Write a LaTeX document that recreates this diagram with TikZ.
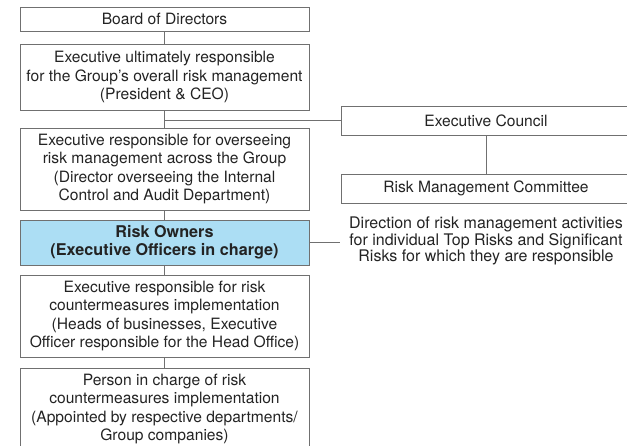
\documentclass[tikz,border=0pt]{standalone}
\usepackage{fontspec}
\setmainfont{TeX Gyre Heros}
\usetikzlibrary{positioning}
\definecolor{linegray}{RGB}{112,112,112}
\definecolor{ownerblue}{RGB}{172,222,244}
\definecolor{textgray}{RGB}{35,35,35}

\begin{document}
\begin{tikzpicture}[x=1pt,y=-1pt,
    box/.style={draw=linegray,line width=0.8pt,minimum width=289pt,inner sep=0pt,align=center,text=textgray,font=\fontsize{15.6}{18.3}\selectfont},
    sidebox/.style={box,minimum width=290pt,minimum height=29pt},
    link/.style={draw=linegray,line width=0.8pt}]
    \useasboundingbox (0,0) rectangle (627,446);
    \clip (0,0) rectangle (627,446);

    % left column
    \node[box,minimum height=24pt] (board) at (164.5,19) {Board of Directors};
    \node[box,minimum height=66pt] (ultimate) at (164.5,77) {Executive ultimately responsible\\for the Group’s overall risk management\\(President \& CEO)};
    \node[box,minimum height=82pt] (oversee) at (164.5,169) {Executive responsible for overseeing\\risk management across the Group\\(Director overseeing the Internal\\Control and Audit Department)};
    \node[box,minimum height=45pt,fill=ownerblue,font=\fontsize{16.2}{18.3}\selectfont\bfseries] (owners) at (164.5,242.5) {Risk Owners\\(Executive Officers in charge)};
    \node[box,minimum height=82pt] (implement) at (164.5,316) {Executive responsible for risk\\countermeasures implementation\\(Heads of businesses, Executive\\Officer responsible for the Head Office)};
    \node[box,minimum height=82pt] (person) at (164.5,409) {Person in charge of risk\\countermeasures implementation\\(Appointed by respective departments/\\Group companies)};

    % right column
    \node[sidebox] (council) at (486,120.5) {Executive Council};
    \node[sidebox] (rmc) at (486,188.5) {Risk Management Committee};
    \node[align=center,inner ysep=3pt,inner xsep=9pt,text=textgray,font=\fontsize{16}{16.3}\selectfont] (direction) at (486,241) {Direction of risk management activities\\for individual Top Risks and Significant\\Risks for which they are responsible};

    \draw[link] (board) -- (ultimate);
    \draw[link] (ultimate) -- (oversee);
    \draw[link] (oversee) -- (owners);
    \draw[link] (owners) -- (implement);
    \draw[link] (implement) -- (person);
    \draw[link] (council.west) -- (council.west -| ultimate.south);
    \draw[link] (council) -- (rmc);
    \draw[link] (owners.east) -- (owners.east -| direction.west);
\end{tikzpicture}
\end{document}
